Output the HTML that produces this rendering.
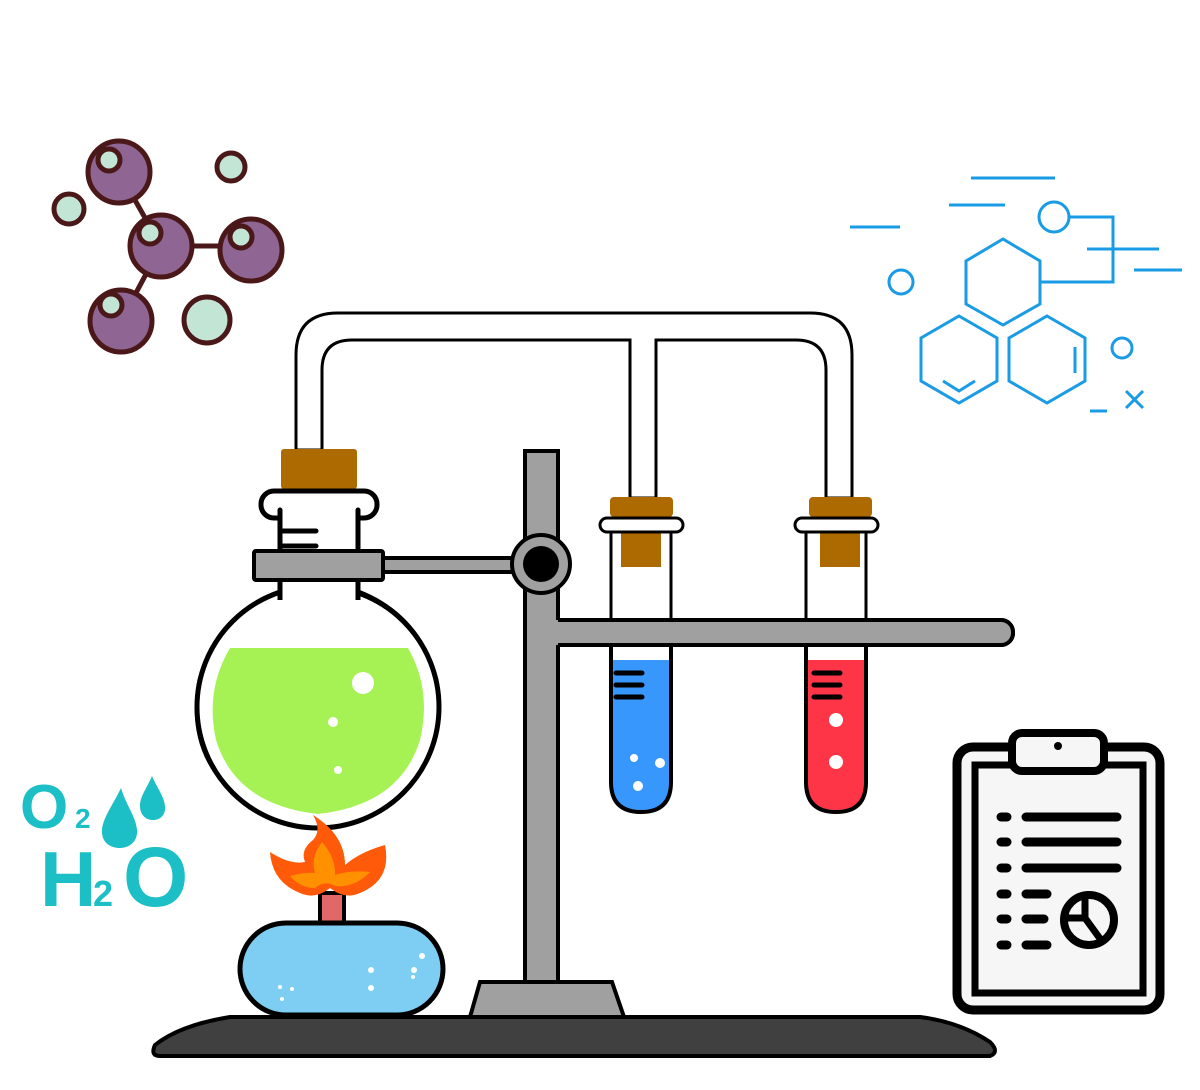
<!DOCTYPE html>
<html><head><meta charset="utf-8"><style>html,body{margin:0;padding:0;background:#fff}svg{display:block}</style></head>
<body>
<svg width="1200" height="1090" viewBox="0 0 1200 1090" xmlns="http://www.w3.org/2000/svg">
<g stroke="#4a1818" stroke-width="5">
<line x1="119" y1="172" x2="161" y2="246"/><line x1="161" y1="246" x2="251" y2="246"/><line x1="161" y1="246" x2="121" y2="321"/>
<g fill="#8e6593"><circle cx="119" cy="172" r="31"/><circle cx="161" cy="246" r="31"/><circle cx="251" cy="250" r="31"/><circle cx="121" cy="321" r="31"/></g>
<g fill="#c3e5d6"><circle cx="109" cy="160" r="11"/><circle cx="150" cy="233" r="11"/><circle cx="241" cy="237" r="11"/><circle cx="111" cy="305" r="11"/>
<circle cx="69" cy="209" r="15"/><circle cx="231" cy="167" r="14"/><circle cx="207" cy="320" r="23"/></g>
</g>
<g stroke="#1a9be6" stroke-width="3" fill="none">
<polygon points="1003,239 1040,261 1040,304 1003,325 966,304 966,261"/>
<polygon points="959,316 997,338 997,381 959,403 921,381 921,338"/>
<polygon points="1047,316 1085,338 1085,381 1047,403 1009,381 1009,338"/>
<polyline points="943,381 959,391 975,381"/>
<line x1="1075" y1="347" x2="1075" y2="373"/>
<circle cx="1054" cy="217" r="15"/>
<polyline points="1069,217 1113,217 1113,282 1040,282"/>
<line x1="971" y1="178" x2="1055" y2="178"/><line x1="949" y1="205" x2="1005" y2="205"/>
<line x1="850" y1="227" x2="900" y2="227"/><line x1="1087" y1="249" x2="1159" y2="249"/>
<line x1="1134" y1="270" x2="1182" y2="270"/>
<circle cx="901" cy="282" r="12"/><circle cx="1122" cy="348" r="10"/>
<line x1="1126" y1="391" x2="1143" y2="408"/><line x1="1143" y1="391" x2="1126" y2="408"/>
<line x1="1090" y1="411" x2="1107" y2="411"/>
</g>
<g fill="#1bbfc5" font-family="Liberation Sans, sans-serif" font-weight="bold">
<text x="20" y="828" font-size="62">O</text><text x="75" y="828" font-size="28">2</text>
<text x="40" y="906" font-size="78">H</text><text x="93" y="906" font-size="36">2</text><text x="123" y="906" font-size="84">O</text>
<path d="M121,788 C113,805 101,820 102,833 C103,845 113,848 120,848 C129,848 138,842 137,830 C136,817 126,805 121,788Z"/>
<path d="M152,776 C147,788 140,796 140,806 C140,815 146,820 153,820 C160,820 166,815 165,806 C164,796 157,788 152,776Z"/>
</g>
<path d="M296,450 V355 Q296,313 338,313 H810 Q852,313 852,355 V498 H826 V370 Q826,340 796,340 H656 V498 H630 V340 H352 Q322,340 322,370 V450Z" fill="#fff" stroke="#000" stroke-width="3"/>
<path d="M160,1056 L990,1056 Q1000,1052 990,1042 Q960,1022 920,1017 L230,1017 Q180,1025 155,1045 Q150,1056 160,1056Z" fill="#404040" stroke="#000" stroke-width="4"/>
<path d="M470,1017 L480,982 L612,982 L624,1017Z" fill="#a0a0a0" stroke="#000" stroke-width="4"/>
<rect x="525" y="451" width="33" height="531" fill="#a0a0a0" stroke="#000" stroke-width="4"/>
<rect x="545" y="620" width="468" height="25" rx="12" fill="#a0a0a0" stroke="#000" stroke-width="4"/>
<rect x="380" y="558" width="135" height="14" fill="#a0a0a0" stroke="#000" stroke-width="4"/>
<circle cx="541" cy="564" r="29" fill="#a0a0a0" stroke="#000" stroke-width="4"/>
<circle cx="541" cy="564" r="18" fill="#000"/>
<rect x="281" y="449" width="76" height="40" rx="3" fill="#ad6a00"/>
<path d="M280,517 V592 Q220,615 200,680 Q185,760 250,805 Q318,845 386,805 Q450,760 436,680 Q418,615 358,592 V517" fill="#fff" stroke="#000" stroke-width="5"/>
<circle cx="318" cy="707" r="121" fill="#fff" stroke="#000" stroke-width="5"/>
<path d="M230,648 H408 Q432,690 420,740 Q400,805 318,814 Q236,805 216,740 Q205,690 230,648Z" fill="#a6f255"/>
<rect x="278" y="580" width="82" height="20" fill="#fff"/>
<path d="M280,580 V600 M358,580 V600" stroke="#000" stroke-width="5"/>
<rect x="261" y="491" width="116" height="27" rx="13" fill="#fff" stroke="#000" stroke-width="5"/>
<rect x="278" y="508" width="82" height="45" fill="#fff"/>
<path d="M280,510 V552 M358,510 V552 M283,531 H316 M283,546 H316" stroke="#000" stroke-width="5" stroke-linecap="round"/>
<rect x="254" y="551" width="129" height="29" rx="2" fill="#a0a0a0" stroke="#000" stroke-width="4"/>
<circle cx="363" cy="683" r="11" fill="#fff"/><circle cx="333" cy="722" r="5" fill="#fff"/><circle cx="338" cy="770" r="4" fill="#fff"/>
<rect x="320" y="893" width="24" height="32" fill="#e06868" stroke="#000" stroke-width="4"/>
<rect x="240" y="923" width="203" height="92" rx="46" fill="#7ecdf2" stroke="#000" stroke-width="5"/>
<g fill="#fff"><circle cx="371" cy="970" r="3"/><circle cx="371" cy="988" r="3"/><circle cx="422" cy="956" r="3"/><circle cx="414" cy="970" r="3"/><circle cx="413" cy="977" r="2"/><circle cx="292" cy="989" r="2"/><circle cx="280" cy="987" r="2"/><circle cx="282" cy="999" r="2"/></g>
<path d="M313,815 Q345,835 345,865 Q360,852 385,845 Q392,880 360,893 Q345,900 330,888 Q315,900 300,893 Q272,882 270,852 Q290,865 305,862 Q300,850 313,840 Q322,830 313,815Z" fill="#ff5a0a"/>
<path d="M322,842 Q336,858 335,875 Q350,870 370,872 Q355,888 335,886 Q325,880 315,888 Q300,888 290,876 Q305,872 315,873 Q310,858 322,842Z" fill="#ff9000"/>
<rect x="610" y="497" width="63" height="20" rx="4" fill="#ad6a00"/>
<path d="M611,530 V782 Q611,812 641,812 Q671,812 671,782 V530" fill="#fff" stroke="#000" stroke-width="3"/>
<path d="M612,660 H670 V782 Q670,810 641,810 Q612,810 612,782Z" fill="#3797fd"/>
<path d="M611,645 V782 Q611,812 641,812 Q671,812 671,782 V645" fill="none" stroke="#000" stroke-width="4"/>
<rect x="621" y="533" width="40" height="34" fill="#ad6a00"/>
<rect x="600" y="518" width="83" height="14" rx="7" fill="#fff" stroke="#000" stroke-width="3"/>
<path d="M616,673 H642 M616,685 H642 M616,697 H642" stroke="#000" stroke-width="5" stroke-linecap="round"/>
<g fill="#fff"><circle cx="634" cy="758" r="4"/><circle cx="660" cy="763" r="5"/><circle cx="638" cy="786" r="5"/></g>
<rect x="809" y="497" width="63" height="20" rx="4" fill="#ad6a00"/>
<path d="M806,530 V782 Q806,812 836,812 Q866,812 866,782 V530" fill="#fff" stroke="#000" stroke-width="3"/>
<path d="M807,660 H865 V782 Q865,810 836,810 Q807,810 807,782Z" fill="#fd3546"/>
<path d="M806,645 V782 Q806,812 836,812 Q866,812 866,782 V645" fill="none" stroke="#000" stroke-width="4"/>
<rect x="820" y="533" width="40" height="34" fill="#ad6a00"/>
<rect x="795" y="518" width="83" height="14" rx="7" fill="#fff" stroke="#000" stroke-width="3"/>
<path d="M814,673 H840 M814,685 H840 M814,697 H840" stroke="#000" stroke-width="5" stroke-linecap="round"/>
<g fill="#fff"><circle cx="836" cy="720" r="7"/><circle cx="836" cy="762" r="7"/></g>
<rect x="545" y="620" width="468" height="25" rx="12" fill="#a0a0a0" stroke="#000" stroke-width="4"/>
<rect x="525" y="600" width="33" height="60" fill="#a0a0a0"/>
<path d="M525,600 V660 M558,600 V620 M558,645 V660" stroke="#000" stroke-width="4"/>
<rect x="957" y="747" width="203" height="263" rx="16" fill="#f6f6f6" stroke="#000" stroke-width="9"/>
<rect x="975" y="765" width="168" height="228" fill="#f6f6f6" stroke="#000" stroke-width="7"/>
<rect x="1012" y="733" width="92" height="38" rx="10" fill="#f6f6f6" stroke="#000" stroke-width="8"/>
<circle cx="1058" cy="746" r="4" fill="#000"/>
<g stroke="#000" stroke-width="9" stroke-linecap="round">
<path d="M1001,817 H1007 M1001,842 H1007 M1001,868 H1007 M1001,894 H1007 M1001,919 H1007 M1001,945 H1007"/>
<path d="M1026,817 H1117 M1026,842 H1117 M1026,868 H1117 M1026,894 H1047 M1026,919 H1044 M1026,945 H1047"/>
</g>
<circle cx="1089" cy="920" r="25" fill="none" stroke="#000" stroke-width="8"/>
<path d="M1085,895 V918 L1065,918 M1085,918 L1101,940" stroke="#000" stroke-width="7" fill="none"/>
</svg>
</body></html>
